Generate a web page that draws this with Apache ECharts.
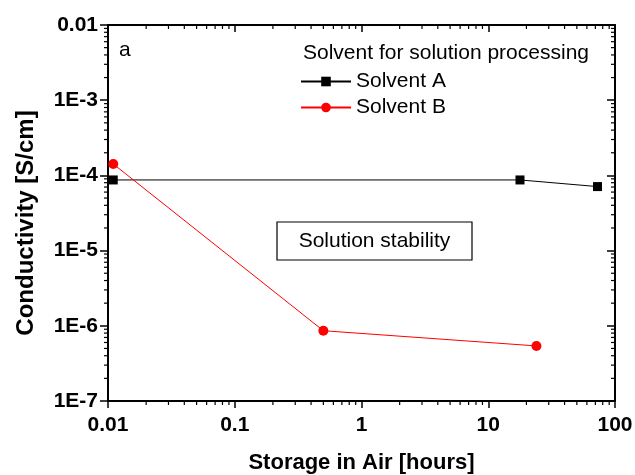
<!DOCTYPE html>
<html>
<head>
<meta charset="utf-8">
<script src="https://cdn.jsdelivr.net/npm/echarts@6/dist/echarts.min.js"></script>
<style>
html,body{margin:0;padding:0;background:#fff;}
#c{width:635px;height:475px;}
</style>
</head>
<body>
<div id="c"></div>
<script>
// ---- data ----
const seriesNames = ['Solvent A', 'Solvent B'];
const solventA_x = [0.011, 17.8, 72.8];
const solventA_y = [8.7e-5, 8.7e-5, 7.1e-5];
const solventB_x = [0.011, 0.5, 24];
const solventB_y = [1.42e-4, 8.6e-7, 5.4e-7];
const xTickLabels = ['0.01', '0.1', '1', '10', '100'];
const yTickLabels = ['1E-7', '1E-6', '1E-5', '1E-4', '1E-3', '0.01'];
const xTitle = 'Storage in Air [hours]';
const yTitle = 'Conductivity [S/cm]';
const legendTitle = 'Solvent for solution processing';
const panelLabel = 'a';
const annotation = 'Solution stability';

const FONT = '"Liberation Sans", Arial, sans-serif';
const xMin = 0.01, xMax = 100, yMin = 1e-7, yMax = 0.01;

function xFmt(v){ const i = Math.round(Math.log10(v) - Math.log10(xMin)); return xTickLabels[i] ?? ''; }
function yFmt(v){ const i = Math.round(Math.log10(v) - Math.log10(yMin)); return yTickLabels[i] ?? ''; }

const chart = echarts.init(document.getElementById('c'), null, {renderer:'canvas'});

const baseX = {
  type:'log', logBase:10, min:xMin, max:xMax,
  splitLine:{show:false},
  axisLine:{lineStyle:{color:'#000', width:2}},
};
const baseY = {
  type:'log', logBase:10, min:yMin, max:yMax,
  splitLine:{show:false},
  axisLine:{lineStyle:{color:'#000', width:2}},
};

const option = {
  animation:false,
  backgroundColor:'#fff',
  grid:{left:108, right:20, top:25, bottom:74, containLabel:false, outerBoundsMode:'none'},
  title:{
    text: legendTitle, left:298, top:38,
    textStyle:{fontFamily:FONT, fontSize:21, fontWeight:'normal', color:'#000'}
  },
  legend:{
    data: seriesNames, orient:'vertical', left:295, top:66,
    itemWidth:50, itemHeight:12, itemGap:5,
    textStyle:{fontFamily:FONT, fontSize:21, color:'#000'}
  },
  xAxis:[
    Object.assign({}, baseX, {
      position:'bottom',
      name:xTitle, nameLocation:'middle', nameGap:51,
      nameTextStyle:{fontFamily:FONT, fontSize:22, fontWeight:'bold', color:'#000'},
      axisTick:{inside:false, length:7, lineStyle:{color:'#000', width:1.5}},
      axisLabel:{formatter:xFmt, fontFamily:FONT, fontSize:21, fontWeight:'bold', color:'#000', margin:14},
    }),
    Object.assign({}, baseX, {
      position:'top',
      axisTick:{inside:true, length:7, lineStyle:{color:'#000', width:1.5}},
      axisLabel:{show:false},
    })
  ],
  yAxis:[
    Object.assign({}, baseY, {
      position:'left',
      name:yTitle, nameLocation:'middle', nameGap:70, nameRotate:90,
      nameTextStyle:{fontFamily:FONT, fontSize:24, fontWeight:'bold', color:'#000', padding:[0,20,0,0]},
      axisTick:{inside:false, length:8, lineStyle:{color:'#000', width:1.5}},
      axisLabel:{formatter:yFmt, fontFamily:FONT, fontSize:21, fontWeight:'bold', color:'#000', margin:10},
    }),
    Object.assign({}, baseY, {
      position:'right',
      axisTick:{inside:true, length:8, lineStyle:{color:'#000', width:1.5}},
      axisLabel:{show:false},
    })
  ],
  series:[
    {
      name:seriesNames[0], type:'line', xAxisIndex:0, yAxisIndex:0,
      data: solventA_x.map((x,i)=>[x, solventA_y[i]]),
      symbol:'rect', symbolSize:9,
      lineStyle:{color:'#000', width:1},
      itemStyle:{color:'#000'},
    },
    {
      name:seriesNames[1], type:'line', xAxisIndex:0, yAxisIndex:0,
      data: solventB_x.map((x,i)=>[x, solventB_y[i]]),
      symbol:'circle', symbolSize:10,
      lineStyle:{color:'#ff0000', width:1},
      itemStyle:{color:'#ff0000'},
    }
  ]
};
chart.setOption(option);

// minor ticks (2..9 within each decade) placed through the axes' own scales
function addMinorTicks(){
  const els = [];
  const top = chart.convertToPixel({yAxisIndex:0}, yMax);
  const bottom = chart.convertToPixel({yAxisIndex:0}, yMin);
  const left = chart.convertToPixel({xAxisIndex:0}, xMin);
  const right = chart.convertToPixel({xAxisIndex:0}, xMax);
  const ls = {stroke:'#000', lineWidth:1.2};
  const L = 4;
  for (let e = Math.round(Math.log10(xMin)); e < Math.round(Math.log10(xMax)); e++){
    for (let m = 2; m <= 9; m++){
      const px = chart.convertToPixel({xAxisIndex:0}, m*Math.pow(10,e));
      els.push({type:'line', shape:{x1:px, y1:bottom, x2:px, y2:bottom+L}, style:ls, silent:true});
      els.push({type:'line', shape:{x1:px, y1:top, x2:px, y2:top+L}, style:ls, silent:true});
    }
  }
  for (let e = Math.round(Math.log10(yMin)); e < Math.round(Math.log10(yMax)); e++){
    for (let m = 2; m <= 9; m++){
      const py = chart.convertToPixel({yAxisIndex:0}, m*Math.pow(10,e));
      els.push({type:'line', shape:{x1:left-L, y1:py, x2:left, y2:py}, style:ls, silent:true});
      els.push({type:'line', shape:{x1:right-L, y1:py, x2:right, y2:py}, style:ls, silent:true});
    }
  }
  els.push({type:'text', left:119, top:40, style:{text:panelLabel, font:'21px '+FONT, fill:'#000'}});
  els.push({type:'rect', shape:{x:277, y:222, width:195, height:38}, style:{fill:'#fff', stroke:'#000', lineWidth:1.2}, z:10});
  els.push({type:'text', x:374.5, y:241, style:{text:annotation, font:'21px '+FONT, fill:'#000', align:'center', verticalAlign:'middle'}, z:11});
  chart.setOption({graphic:{elements:els}});
}
addMinorTicks();
</script>
</body>
</html>
